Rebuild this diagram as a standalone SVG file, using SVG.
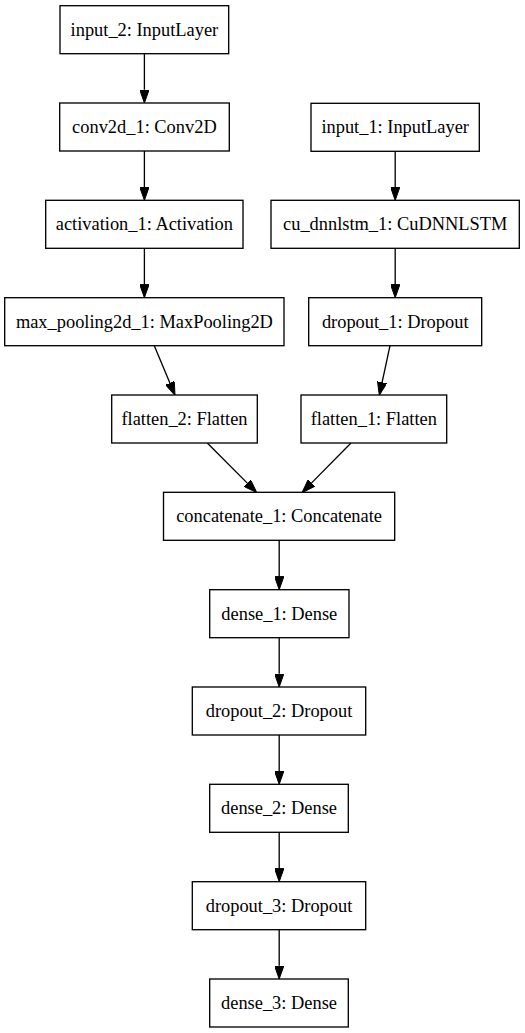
<svg xmlns="http://www.w3.org/2000/svg" width="525" height="1033" viewBox="0 0 525 1033">
<style>
.box{fill:#fff;stroke:#000;stroke-width:1.33}
.lbl{font-family:"Liberation Serif","Times New Roman",serif;font-size:18.4px;fill:#000;text-anchor:middle}
.edge{fill:none;stroke:#000;stroke-width:1.33}
</style>
<defs>
<marker id="arr" viewBox="0 0 13.3 9.4" refX="0" refY="4.7" markerWidth="13.3" markerHeight="9.4" markerUnits="userSpaceOnUse" orient="auto">
<path d="M0,0 L13.3,4.7 L0,9.4 z" fill="#000" stroke="#000" stroke-width="1"/>
</marker>
</defs>
<rect width="525" height="1033" fill="#fff"/>
<g id="connectors">
<line class="edge" x1="144.4" y1="53.7" x2="144.4" y2="89.7" marker-end="url(#arr)"/>
<line class="edge" x1="144.4" y1="151" x2="144.4" y2="187" marker-end="url(#arr)"/>
<line class="edge" x1="144.4" y1="248.3" x2="144.4" y2="284.4" marker-end="url(#arr)"/>
<line class="edge" x1="154.3" y1="345.7" x2="169.9" y2="383" marker-end="url(#arr)"/>
<line class="edge" x1="395.2" y1="151.3" x2="395.2" y2="187" marker-end="url(#arr)"/>
<line class="edge" x1="395.2" y1="248.3" x2="395.2" y2="284.4" marker-end="url(#arr)"/>
<line class="edge" x1="390" y1="345.7" x2="382.1" y2="382.3" marker-end="url(#arr)"/>
<line class="edge" x1="207.3" y1="443" x2="247.3" y2="483.1" marker-end="url(#arr)"/>
<line class="edge" x1="351" y1="443" x2="311.4" y2="483.1" marker-end="url(#arr)"/>
<line class="edge" x1="279.2" y1="540.3" x2="279.2" y2="576.4" marker-end="url(#arr)"/>
<line class="edge" x1="279.2" y1="637.7" x2="279.2" y2="673.7" marker-end="url(#arr)"/>
<line class="edge" x1="279.2" y1="735" x2="279.2" y2="771" marker-end="url(#arr)"/>
<line class="edge" x1="279.2" y1="832.3" x2="279.2" y2="868.4" marker-end="url(#arr)"/>
<line class="edge" x1="279.2" y1="929.7" x2="279.2" y2="965.7" marker-end="url(#arr)"/>
</g>
<g id="input_2"><rect class="box" x="60" y="5.7" width="168.7" height="48"/><text class="lbl" x="144.4" y="35.6">input_2: InputLayer</text></g>
<g id="conv2d_1"><rect class="box" x="59.7" y="103" width="169.6" height="48"/><text class="lbl" x="144.4" y="132.9">conv2d_1: Conv2D</text></g>
<g id="activation_1"><rect class="box" x="45.7" y="200.3" width="197.3" height="48"/><text class="lbl" x="144.4" y="230.2">activation_1: Activation</text></g>
<g id="max_pooling2d_1"><rect class="box" x="4.7" y="297.7" width="279.3" height="48"/><text class="lbl" x="144.4" y="327.6">max_pooling2d_1: MaxPooling2D</text></g>
<g id="flatten_2"><rect class="box" x="111.7" y="395" width="145.6" height="48"/><text class="lbl" x="184.5" y="424.9">flatten_2: Flatten</text></g>
<g id="input_1"><rect class="box" x="311" y="103.3" width="168.3" height="48"/><text class="lbl" x="395.2" y="133.2">input_1: InputLayer</text></g>
<g id="cu_dnnlstm_1"><rect class="box" x="271" y="200.3" width="248.3" height="48"/><text class="lbl" x="395.2" y="230.2">cu_dnnlstm_1: CuDNNLSTM</text></g>
<g id="dropout_1"><rect class="box" x="308.7" y="297.7" width="173" height="48"/><text class="lbl" x="395.2" y="327.6">dropout_1: Dropout</text></g>
<g id="flatten_1"><rect class="box" x="301" y="395" width="145.7" height="48"/><text class="lbl" x="373.8" y="424.9">flatten_1: Flatten</text></g>
<g id="concatenate_1"><rect class="box" x="163.5" y="492.3" width="231.2" height="48"/><text class="lbl" x="279.1" y="522.2">concatenate_1: Concatenate</text></g>
<g id="dense_1"><rect class="box" x="209.7" y="589.7" width="139.3" height="48"/><text class="lbl" x="279.3" y="619.6">dense_1: Dense</text></g>
<g id="dropout_2"><rect class="box" x="192.3" y="687" width="173.4" height="48"/><text class="lbl" x="279" y="716.9">dropout_2: Dropout</text></g>
<g id="dense_2"><rect class="box" x="209.7" y="784.3" width="138.6" height="48"/><text class="lbl" x="279" y="814.2">dense_2: Dense</text></g>
<g id="dropout_3"><rect class="box" x="192.3" y="881.7" width="173.4" height="48"/><text class="lbl" x="279" y="911.6">dropout_3: Dropout</text></g>
<g id="dense_3"><rect class="box" x="209.7" y="979" width="138.6" height="48"/><text class="lbl" x="279" y="1008.9">dense_3: Dense</text></g>
</svg>
